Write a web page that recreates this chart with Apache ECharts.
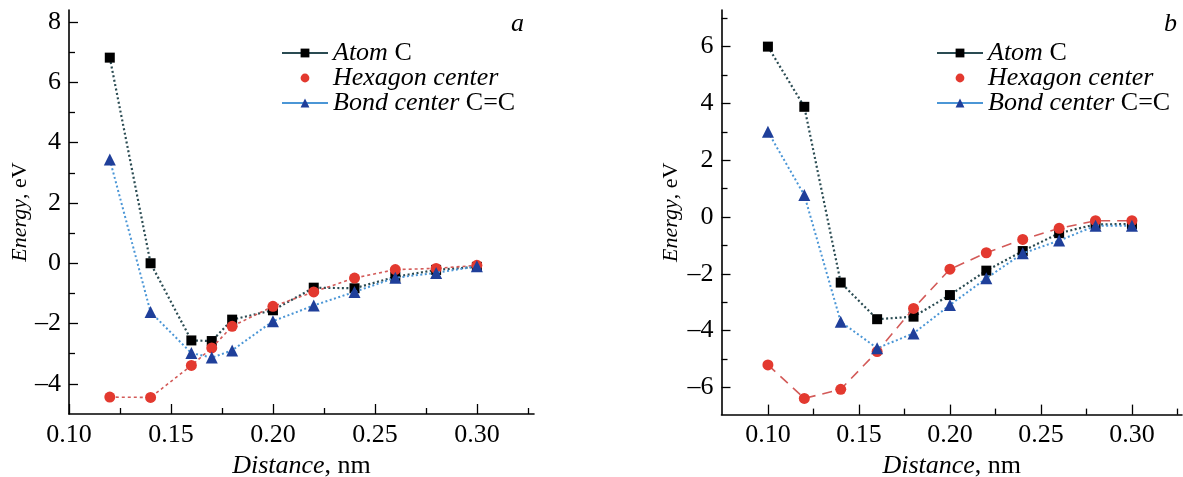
<!DOCTYPE html>
<html>
<head>
<meta charset="utf-8">
<script src="https://cdn.jsdelivr.net/npm/echarts@6/dist/echarts.min.js"></script>
<style>
html,body{margin:0;padding:0;background:#fff;}
#chart{width:1183px;height:477px;}
</style>
</head>
<body>
<div id="chart"></div>
<script>
// ---------- data ----------
const distanceA = [0.12, 0.14, 0.16, 0.17, 0.18, 0.20, 0.22, 0.24, 0.26, 0.28, 0.30];
const atomA     = [6.82, 0.00, -2.56, -2.58, -1.87, -1.56, -0.81, -0.83, -0.45, -0.22, -0.12];
const hexagonA  = [-4.44, -4.45, -3.39, -2.81, -2.09, -1.43, -0.95, -0.49, -0.21, -0.17, -0.07];
const bondA     = [3.44, -1.62, -2.98, -3.13, -2.89, -1.92, -1.40, -0.95, -0.48, -0.32, -0.10];

const distanceB = [0.10, 0.12, 0.14, 0.16, 0.18, 0.20, 0.22, 0.24, 0.26, 0.28, 0.30];
const atomB     = [6.00, 3.88, -2.31, -3.60, -3.51, -2.75, -1.89, -1.20, -0.57, -0.26, -0.25];
const hexagonB  = [-5.21, -6.39, -6.07, -4.74, -3.22, -1.84, -1.26, -0.79, -0.40, -0.13, -0.13];
const bondB     = [3.00, 0.77, -3.69, -4.62, -4.10, -3.10, -2.16, -1.28, -0.83, -0.31, -0.31];

const xMajorTicks = [0.10, 0.15, 0.20, 0.25, 0.30];
const xMinorTicks = [0.125, 0.175, 0.225, 0.275, 0.325];
const yMajorTicksA = [-4, -2, 0, 2, 4, 6, 8];
const yMinorTicksA = [-3, -1, 1, 3, 5, 7];
const yMajorTicksB = [-6, -4, -2, 0, 2, 4, 6];
const yMinorTicksB = [-5, -3, -1, 1, 3, 5, 7];

const seriesNames = ['Atom C', 'Hexagon center', 'Bond center C=C'];
const legendLabels = {
  'Atom C': '{i|Atom }{r|C}',
  'Hexagon center': '{i|Hexagon center}',
  'Bond center C=C': '{i|Bond center }{r|C=C}'
};
const panelLetters = ['a', 'b'];

// ---------- styles ----------
const FONT = 'Liberation Serif';
const FS = 26;
const richText = {
  i: {fontFamily: FONT, fontStyle: 'italic', fontSize: FS, color: '#000'},
  r: {fontFamily: FONT, fontSize: FS, color: '#000'}
};
const richY = {
  i: {fontFamily: FONT, fontStyle: 'italic', fontSize: 22, color: '#000'},
  r: {fontFamily: FONT, fontSize: 22, color: '#000'}
};
const zip = (xs, ys) => xs.map((x, k) => [x, ys[k]]);
const fmtX = v => '{r|' + v.toFixed(2) + '}';
const fmtY = v => '{r|' + (v < 0 ? '\u2013' + Math.abs(v) : String(v)) + '}';
const tickLine = {color: '#000', width: 1.3};

function tickAxis(grid, pos, min, max, values, len) {
  return {
    gridIndex: grid, type: 'value', position: pos, min: min, max: max,
    axisLine: {show: false, onZero: false},
    axisTick: {show: true, inside: true, length: len, customValues: values, lineStyle: tickLine},
    axisLabel: {show: false},
    splitLine: {show: false}
  };
}

function xAxes(grid, min, max) {
  return [
    {
      gridIndex: grid, type: 'value', position: 'bottom', min: min, max: max,
      axisLine: {show: true, onZero: false, lineStyle: {color: '#000', width: 1.6}},
      axisTick: {show: false},
      axisLabel: {customValues: xMajorTicks, formatter: fmtX, fontFamily: FONT, fontSize: FS, color: '#000', margin: 8, rich: richText},
      splitLine: {show: false},
      name: '{i|Distance}{r|, nm}', nameLocation: 'middle', nameGap: 28,
      nameTextStyle: {fontFamily: FONT, rich: richText}
    },
    tickAxis(grid, 'bottom', min, max, xMajorTicks, 10),
    tickAxis(grid, 'bottom', min, max, xMinorTicks, 6)
  ];
}
function yAxes(grid, min, max, major, minor, gap) {
  return [
    {
      gridIndex: grid, type: 'value', position: 'left', min: min, max: max,
      axisLine: {show: true, onZero: false, lineStyle: {color: '#000', width: 1.6}},
      axisTick: {show: false},
      axisLabel: {customValues: major, formatter: fmtY, fontFamily: FONT, fontSize: FS, color: '#000', margin: 8, rich: richText},
      splitLine: {show: false},
      name: '{i|Energy}{r|, eV}', nameLocation: 'middle', nameGap: gap,
      nameTextStyle: {fontFamily: FONT, rich: richY}
    },
    tickAxis(grid, 'left', min, max, major, 9),
    tickAxis(grid, 'left', min, max, minor, 6)
  ];
}

function panelSeries(xi, yi, xs, atom, hex, bond, hexDash) {
  return [
    {
      name: seriesNames[0], type: 'line', xAxisIndex: xi, yAxisIndex: yi,
      data: zip(xs, atom), symbol: 'rect', symbolSize: 10,
      itemStyle: {color: '#000'},
      lineStyle: {color: '#2a4b52', width: 2.2, type: [2, 2.5]},
      z: 2
    },
    {
      name: seriesNames[1], type: 'line', xAxisIndex: xi, yAxisIndex: yi,
      data: zip(xs, hex), symbol: 'circle', symbolSize: 11,
      itemStyle: {color: '#e3392f'},
      lineStyle: {color: '#d35a58', width: 1.6, type: hexDash},
      z: 3
    },
    {
      name: seriesNames[2], type: 'line', xAxisIndex: xi, yAxisIndex: yi,
      data: zip(xs, bond), symbol: 'triangle', symbolSize: 12,
      itemStyle: {color: '#1f3f9a'},
      lineStyle: {color: '#4b96d6', width: 2, type: [2, 2.5]},
      z: 4
    }
  ];
}

function legendFor(left) {
  return {
    orient: 'vertical', left: left, top: 40, padding: 0, itemGap: -1,
    itemWidth: 46, itemHeight: 11,
    selectedMode: false,
    lineStyle: {type: 'solid', width: 2},
    data: [
      {name: seriesNames[0]},
      {name: seriesNames[1], lineStyle: {opacity: 0}},
      {name: seriesNames[2]}
    ],
    formatter: name => legendLabels[name],
    textStyle: {fontFamily: FONT, fontSize: FS, lineHeight: 24, color: '#000', rich: richText}
  };
}

const chart = echarts.init(document.getElementById('chart'), null, {renderer: 'canvas'});
chart.setOption({
  animation: false,
  backgroundColor: '#fff',
  textStyle: {fontFamily: FONT, color: '#000'},
  title: [
    {text: panelLetters[0], left: 506, top: 6, textStyle: {fontFamily: FONT, fontStyle: 'italic', fontWeight: 'normal', fontSize: FS, color: '#000'}},
    {text: panelLetters[1], left: 1159, top: 6, textStyle: {fontFamily: FONT, fontStyle: 'italic', fontWeight: 'normal', fontSize: FS, color: '#000'}}
  ],
  grid: [
    {left: 69, top: 10, width: 465, height: 404, containLabel: false, outerBoundsMode: 'none'},
    {left: 721.5, top: 10, width: 460.5, height: 404.6, containLabel: false, outerBoundsMode: 'none'}
  ],
  xAxis: [].concat(xAxes(0, 0.10, 0.328), xAxes(1, 0.0745, 0.3275)),
  yAxis: [].concat(yAxes(0, -5, 8.4, yMajorTicksA, yMinorTicksA, 29), yAxes(1, -6.96, 7.29, yMajorTicksB, yMinorTicksB, 39)),
  legend: [legendFor(281), legendFor(936)],
  series: [].concat(
    panelSeries(0, 0, distanceA, atomA, hexagonA, bondA, [3, 3]),
    panelSeries(3, 3, distanceB, atomB, hexagonB, bondB, [10, 7])
  )
});
</script>
</body>
</html>
